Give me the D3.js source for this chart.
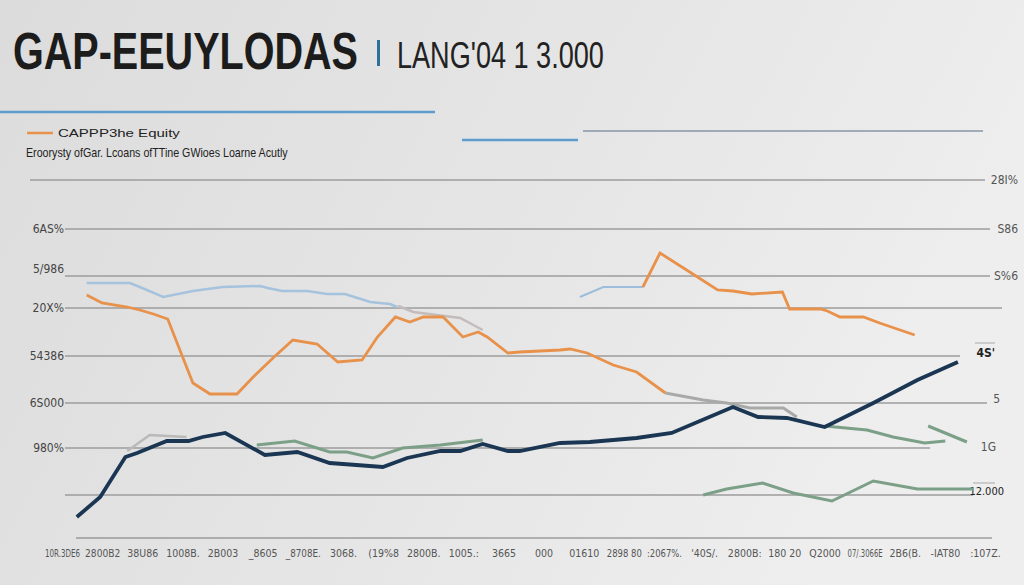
<!DOCTYPE html>
<html><head><meta charset="utf-8">
<script src="https://cdn.jsdelivr.net/npm/d3@7"></script>
<style>html,body{margin:0;padding:0;background:#e2e2e2;}svg{display:block;}</style>
</head><body><svg id="c" width="1024" height="585"></svg>
<script>
// ---- data ----
const titleMain = "GAP-EEUYLODAS";
const titleSub = "LANG'04 1 3.000";
const legendLabel = "CAPPP3he Equity";
const subtitle = "Eroorysty ofGar. Lcoans ofTTine GWioes Loarne Acutly";
const xTickLabels = ["10R.3DE6","2800B2","38U86","1008B.","2B003","_8605","_8708E.","3068.","(19%8","2800B.","1005.:","3665","000","01610","2898 80",":2067%.","'40S/.","2800B:","180 20","Q2000","07/.3066E","2B6(B.","-IAT80",":107Z."];
const gridValues = [35.9, 31.0, 26.3, 23.1, 18.3, 13.6, 9.1, 4.4];
const leftLabels = ["", "6AS%", "5/986", "20X%", "54386", "6S000", "980%", ""];
const rightLabels = ["28I%", "S86", "S%6", "", "4S'", "5", "1G", "12.000"];
const rightLabelValues = [35.9, 31.0, 26.3, 23.1, 18.6, 14.0, 9.2, 4.8];

const blue1X = [1.3,6.1,7.2,9.8,13.1,16.4,20.6,21.4,23,25.8,28,30,32.8,35,35.8];
const blue1Y = [25.6,25.6,25.2,24.2,24.8,25.2,25.3,25.1,24.8,24.8,24.5,24.5,23.7,23.5,23.2];
const blue2X = [56.1,58.7,63.1];
const blue2Y = [24.2,25.2,25.2];
const orange1X = [1.3,3,5.8,7.2,8.7,10.3,13.1,15,18,19.8,22,24.2,26.9,29.2,31.9,33.6,35.6,37.2,38.7,40.9,43.1,44.8,45.8,48.1,49.4,53.9,55,56.9,59.8,62.4,65.6];
const orange1Y = [24.4,23.6,23.2,22.9,22.5,22,15.6,14.5,14.5,16.2,18.1,19.9,19.5,17.7,17.9,20.2,22.2,21.7,22.2,22.2,20.2,20.7,20.2,18.6,18.7,18.9,19,18.6,17.4,16.7,14.6];
const orange2X = [63.1,65,68.3,71.4,73.1,75.2,78.6,79.4,82.8,83.6,85,87.6,89.4,93.3];
const orange2Y = [25.2,28.6,26.7,24.9,24.8,24.5,24.7,23,23,22.8,22.2,22.2,21.6,20.4];
const grayAX = [65.6,69.8,72.4,75,78.7,80.2];
const grayAY = [14.6,13.9,13.6,13.1,13.1,12.2];
const grayBX = [35.9,37.6,42.8,45.3];
const grayBY = [23.3,22.7,22.1,20.9];
const grayCX = [5.8,8.3,12.4];
const grayCY = [8.8,10.4,10.2];
const navyX = [0.2,2.8,5.6,6.9,10.2,12.6,14.2,16.7,21.1,24.7,28.3,34.2,36.9,40.6,42.8,45.3,48.1,49.4,53.9,57.2,62.4,66.3,73.1,75.9,79.1,83.3,88.7,93.6,98.1];
const navyY = [2.2,4.2,8.2,8.6,9.8,9.8,10.2,10.6,8.4,8.7,7.6,7.2,8.1,8.8,8.8,9.5,8.8,8.8,9.6,9.7,10.1,10.6,13.2,12.2,12.1,11.2,13.6,15.9,17.7];
const green1X = [20.2,24.4,28.3,30.2,33.1,36.4,40.6,45.3];
const green1Y = [9.4,9.8,8.7,8.7,8.1,9.1,9.4,9.9];
const green2X = [83.3,88,90.9,94.4,96.7];
const green2Y = [11.3,10.9,10.2,9.6,9.8];
const green3X = [94.8,99.1];
const green3Y = [11.3,9.7];
const green4X = [69.8,72.4,76.4,79.8,84.1,88.7,93.6,99.8];
const green4Y = [4.4,5,5.6,4.6,3.8,5.8,5,5];

// ---- layout / style ----
const svg = d3.select("#c");
const defs = svg.append("defs");
const bg = defs.append("linearGradient").attr("id","bg").attr("x1","0").attr("y1","0").attr("x2","1").attr("y2","0.3");
bg.append("stop").attr("offset","0").attr("stop-color","#dcdcdc");
bg.append("stop").attr("offset","0.6").attr("stop-color","#e6e6e6");
bg.append("stop").attr("offset","1").attr("stop-color","#eeeeee");
svg.append("rect").attr("width",1024).attr("height",585).attr("fill","url(#bg)");

const x = d3.scaleLinear().domain([0,100]).range([75,975]);
const y = d3.scaleLinear().domain([0,36]).range([539,179]);
const narrow = "'Liberation Sans Narrow','DejaVu Sans Condensed','Liberation Sans',sans-serif";
const sans = "'Liberation Sans',Arial,sans-serif";

// place text at (px,py) and scale horizontally so it is exactly w wide
function fitText(str, px, py, w, attrs){
  const t = svg.append("text").attr("x",0).attr("y",0).text(str);
  Object.entries(attrs).forEach(([k,v])=>t.attr(k,v));
  const nat = t.node().getComputedTextLength();
  t.attr("transform",`translate(${px},${py}) scale(${w/nat},1)`);
  return t;
}

// title
fitText(titleMain, 13, 69, 345, {"font-family":sans,"font-weight":"bold","font-size":52,"fill":"#1c1c1c"});
svg.append("rect").attr("x",377).attr("y",40).attr("width",3).attr("height",26).attr("fill","#2f6f9c");
fitText(titleSub, 397, 68, 207, {"font-family":sans,"font-size":37,"fill":"#222"});

// decorative rules
svg.append("line").attr("x1",0).attr("x2",435).attr("y1",112).attr("y2",112).attr("stroke","#5d9ccc").attr("stroke-width",2.5);
svg.append("line").attr("x1",462).attr("x2",578).attr("y1",140).attr("y2",140).attr("stroke","#5d9ccc").attr("stroke-width",2.5);
svg.append("line").attr("x1",583).attr("x2",983).attr("y1",131).attr("y2",131).attr("stroke","#8796a6").attr("stroke-width",1.5);

// legend
svg.append("line").attr("x1",27).attr("x2",53).attr("y1",133).attr("y2",133).attr("stroke","#e8914a").attr("stroke-width",2.5);
fitText(legendLabel, 58, 137, 122, {"font-family":sans,"font-size":11,"fill":"#222"});
fitText(subtitle, 26, 157, 262, {"font-family":sans,"font-size":12,"fill":"#222"});

// grid lines
const gridX1 = [30,65,65,65,65,65,65,65];
const gridX2 = [985,990,990,1002,960,987,930,973];
svg.append("g").selectAll("line").data(gridValues).join("line")
  .attr("x1",(d,i)=>gridX1[i]).attr("x2",(d,i)=>gridX2[i])
  .attr("y1",d=>y(d)).attr("y2",d=>y(d))
  .attr("stroke","#9c9c9c").attr("stroke-width",1.3);
svg.append("line").attr("x1",975).attr("x2",995).attr("y1",y(19.6)).attr("y2",y(19.6)).attr("stroke","#a8a8a8").attr("stroke-width",1);
svg.append("line").attr("x1",973).attr("x2",995).attr("y1",y(5.6)).attr("y2",y(5.6)).attr("stroke","#a8a8a8").attr("stroke-width",1);

// left labels
svg.append("g").selectAll("text").data(gridValues).join("text")
  .attr("x",64).attr("y",(d,i)=> y(d) + (i===2? -3 : 4)).attr("text-anchor","end")
  .text((d,i)=>leftLabels[i]).attr("font-family",narrow).attr("font-size",12).attr("fill","#444");
// right labels
const rightEnd = [1018,1018,1018,1018,995,1000,996,1004];
svg.append("g").selectAll("text").data(rightLabelValues).join("text")
  .attr("x",(d,i)=> rightEnd[i]).attr("y",d=>y(d)+4)
  .attr("text-anchor","end").text((d,i)=>rightLabels[i])
  .attr("font-family",narrow).attr("font-size",(d,i)=> i===7?11:12)
  .attr("font-weight",(d,i)=> (i===4)?"bold":"normal")
  .attr("fill",(d,i)=> (i===4||i===7)?"#222":"#555");

// bottom axis
const xb = d3.scalePoint().domain(xTickLabels).range([62,985]);
svg.append("line").attr("x1",76).attr("x2",992).attr("y1",538).attr("y2",538).attr("stroke","#777").attr("stroke-width",1.2);
const ax = svg.append("g").attr("transform","translate(0,548)").call(d3.axisBottom(xb).tickSize(0).tickPadding(0));
ax.select(".domain").remove();
const maxW = xb.step() - 5;
ax.selectAll("text").attr("font-family",narrow).attr("font-size",10.5).attr("fill","#555").attr("dy","0.9em")
  .each(function(){ const w = this.getComputedTextLength(); if (w > maxW) d3.select(this).attr("transform",`scale(${maxW/w},1)`); });

// series
const line = d3.line().x(d=>x(d[0])).y(d=>y(d[1]));
function draw(xs, ys, color, w, op){
  svg.append("path").datum(xs.map((v,i)=>[v, ys[i]]))
    .attr("d",line).attr("fill","none").attr("stroke",color).attr("stroke-width",w)
    .attr("stroke-linejoin","miter").attr("opacity",op||1);
}
draw(grayCX, grayCY, "#b9b9b9", 2.5);
draw(grayBX, grayBY, "#c4bcbc", 2.5);
draw(grayAX, grayAY, "#a8aaa8", 3);
draw(blue1X, blue1Y, "#a5c3dd", 2.5);
draw(blue2X, blue2Y, "#9dbddb", 2);
draw(orange1X, orange1Y, "#e8914a", 2.8);
draw(orange2X, orange2Y, "#e8914a", 2.8);
draw(green1X, green1Y, "#7c9f87", 3);
draw(green2X, green2Y, "#7c9f87", 3);
draw(green3X, green3Y, "#7c9f87", 3);
draw(green4X, green4Y, "#7c9f87", 3);
draw(navyX, navyY, "#1a3653", 3.8);
</script></body></html>
